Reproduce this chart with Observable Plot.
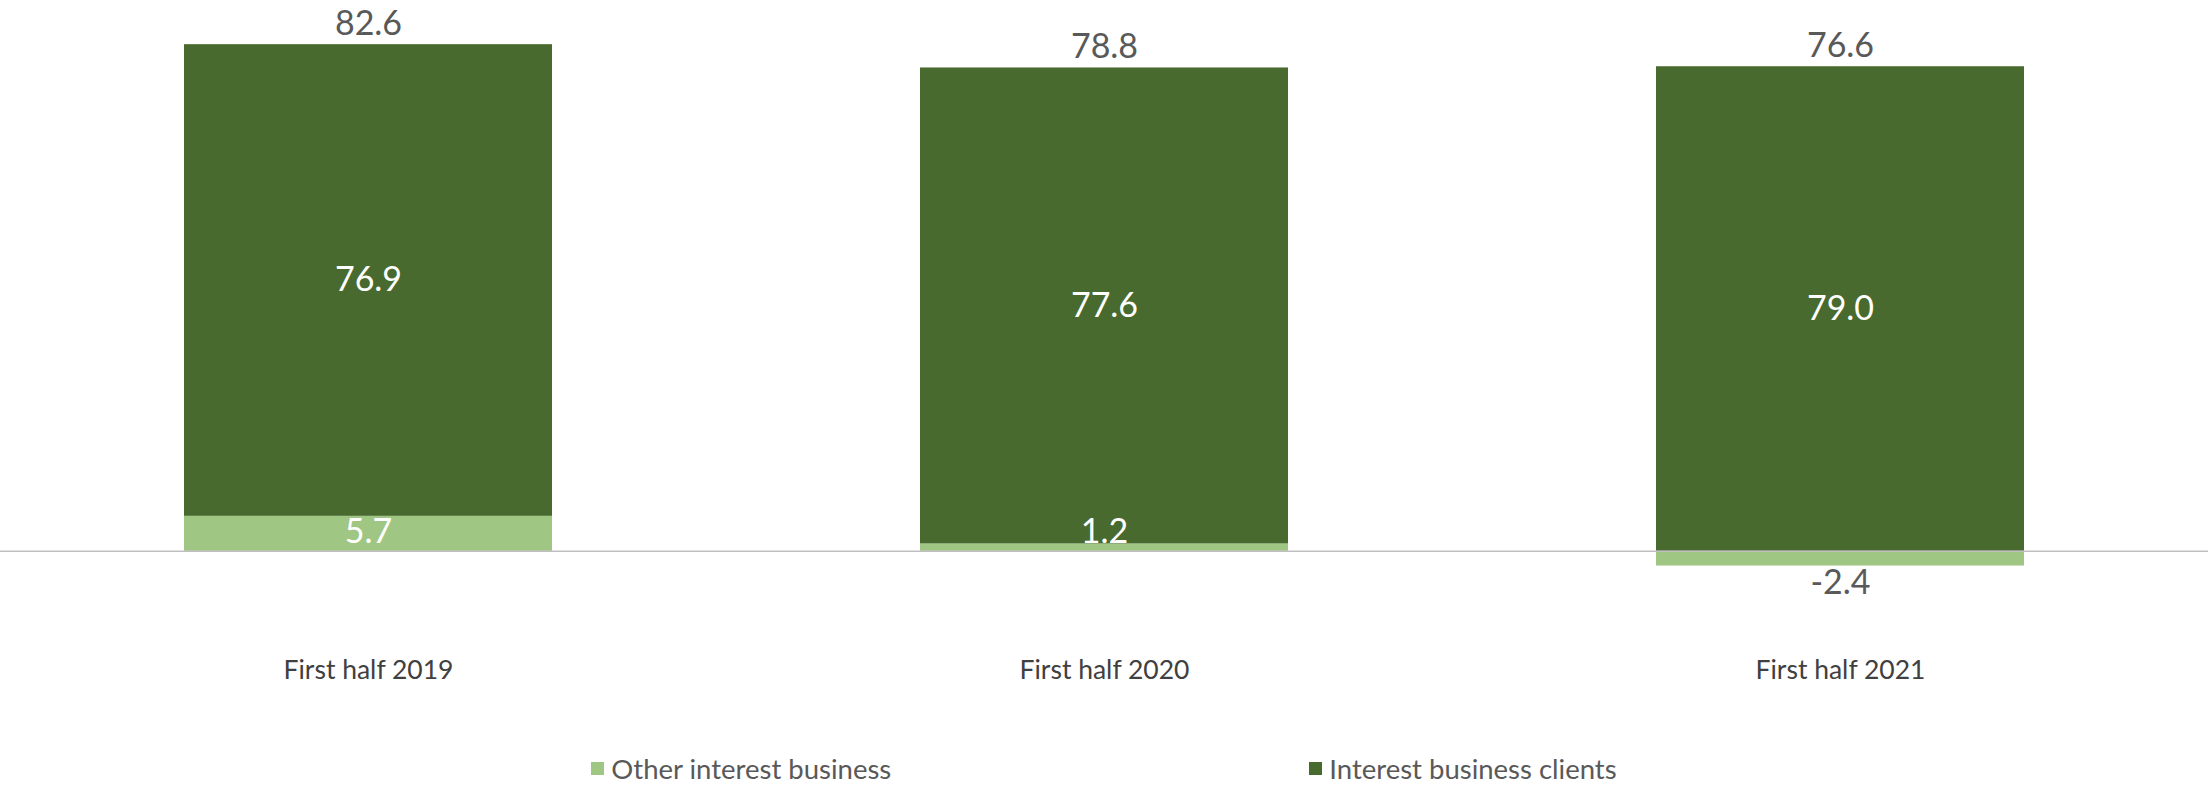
<!DOCTYPE html>
<html><head><meta charset="utf-8">
<script src="https://cdn.jsdelivr.net/npm/d3@7"></script>
<script src="https://cdn.jsdelivr.net/npm/@observablehq/plot@0.6"></script>
<style>
body{margin:0;background:#fff;font-family:Lato,"Open Sans",sans-serif;}
#chart svg{display:block;}
#legend{display:flex;justify-content:center;align-items:center;gap:418px;margin-top:52px;font-size:27.5px;line-height:33px;color:#595959;}
#legend .item{display:flex;align-items:center;gap:7px;}
#legend .sw{width:13px;height:13px;display:inline-block;}
</style>
</head><body>
<div id="chart"></div>
<div id="legend"></div>
<script>
const periods = ["First half 2019", "First half 2020", "First half 2021"];
const otherInterest = [5.7, 1.2, -2.4];
const clientsInterest = [76.9, 77.6, 79.0];
const totals = [82.6, 78.8, 76.6];
const seriesNames = ["Other interest business", "Interest business clients"];
const seriesColors = ["#9fc682", "#486a2e"];

const rows = [];
periods.forEach((p, i) => {
  rows.push({period: p, series: seriesNames[0], value: otherInterest[i]});
  rows.push({period: p, series: seriesNames[1], value: clientsInterest[i]});
});

const clientLabels = periods.map((p, i) => ({period: p, y: Math.max(otherInterest[i], 0) + clientsInterest[i] / 2, text: clientsInterest[i].toFixed(1)}));
const otherPos = periods.map((p, i) => ({period: p, v: otherInterest[i]})).filter(d => d.v >= 0)
  .map(d => ({period: d.period, y: Math.max(d.v / 2, 3.2), text: d.v.toFixed(1)}));
const otherNeg = periods.map((p, i) => ({period: p, v: otherInterest[i]})).filter(d => d.v < 0)
  .map(d => ({period: d.period, y: d.v, text: d.v.toFixed(1)}));
const totalLabels = periods.map((p, i) => ({period: p, y: Math.max(otherInterest[i], 0) + clientsInterest[i], text: totals[i].toFixed(1)}));

const chart = Plot.plot({
  width: 2208,
  height: 700,
  marginLeft: 0,
  marginRight: 0,
  marginTop: 0,
  marginBottom: 48,
  style: {fontFamily: "Lato, 'Open Sans', sans-serif", background: "#fff"},
  x: {domain: periods, paddingInner: 0.5, paddingOuter: 0.25, label: null},
  y: {domain: [-16.5, 89.8], axis: null},
  color: {domain: seriesNames, range: seriesColors},
  marks: [
    Plot.barY(rows, {x: "period", y: "value", fill: "series"}),
    Plot.ruleY([0], {stroke: "#bfbfbf", strokeWidth: 1.5}),
    Plot.text(clientLabels, {x: "period", y: "y", text: "text", fill: "#fff", fontSize: 34, lineAnchor: "middle"}),
    Plot.text(otherPos, {x: "period", y: "y", text: "text", fill: "#fff", fontSize: 34, lineAnchor: "middle"}),
    Plot.text(otherNeg, {x: "period", y: "y", text: "text", fill: "#595959", fontSize: 34, lineAnchor: "middle", dy: 17}),
    Plot.text(totalLabels, {x: "period", y: "y", text: "text", fill: "#595959", fontSize: 34, lineAnchor: "middle", dy: -21}),
    Plot.axisX({tickSize: 0, tickPadding: 8, fontSize: 26.5, color: "#404040", label: null})
  ]
});
document.getElementById("chart").appendChild(chart);

const legend = document.getElementById("legend");
seriesNames.forEach((n, i) => {
  const it = document.createElement("div");
  it.className = "item";
  const sw = document.createElement("span");
  sw.className = "sw";
  sw.style.background = seriesColors[i];
  const t = document.createElement("span");
  t.textContent = n;
  it.appendChild(sw); it.appendChild(t);
  legend.appendChild(it);
});
</script>
</body></html>
